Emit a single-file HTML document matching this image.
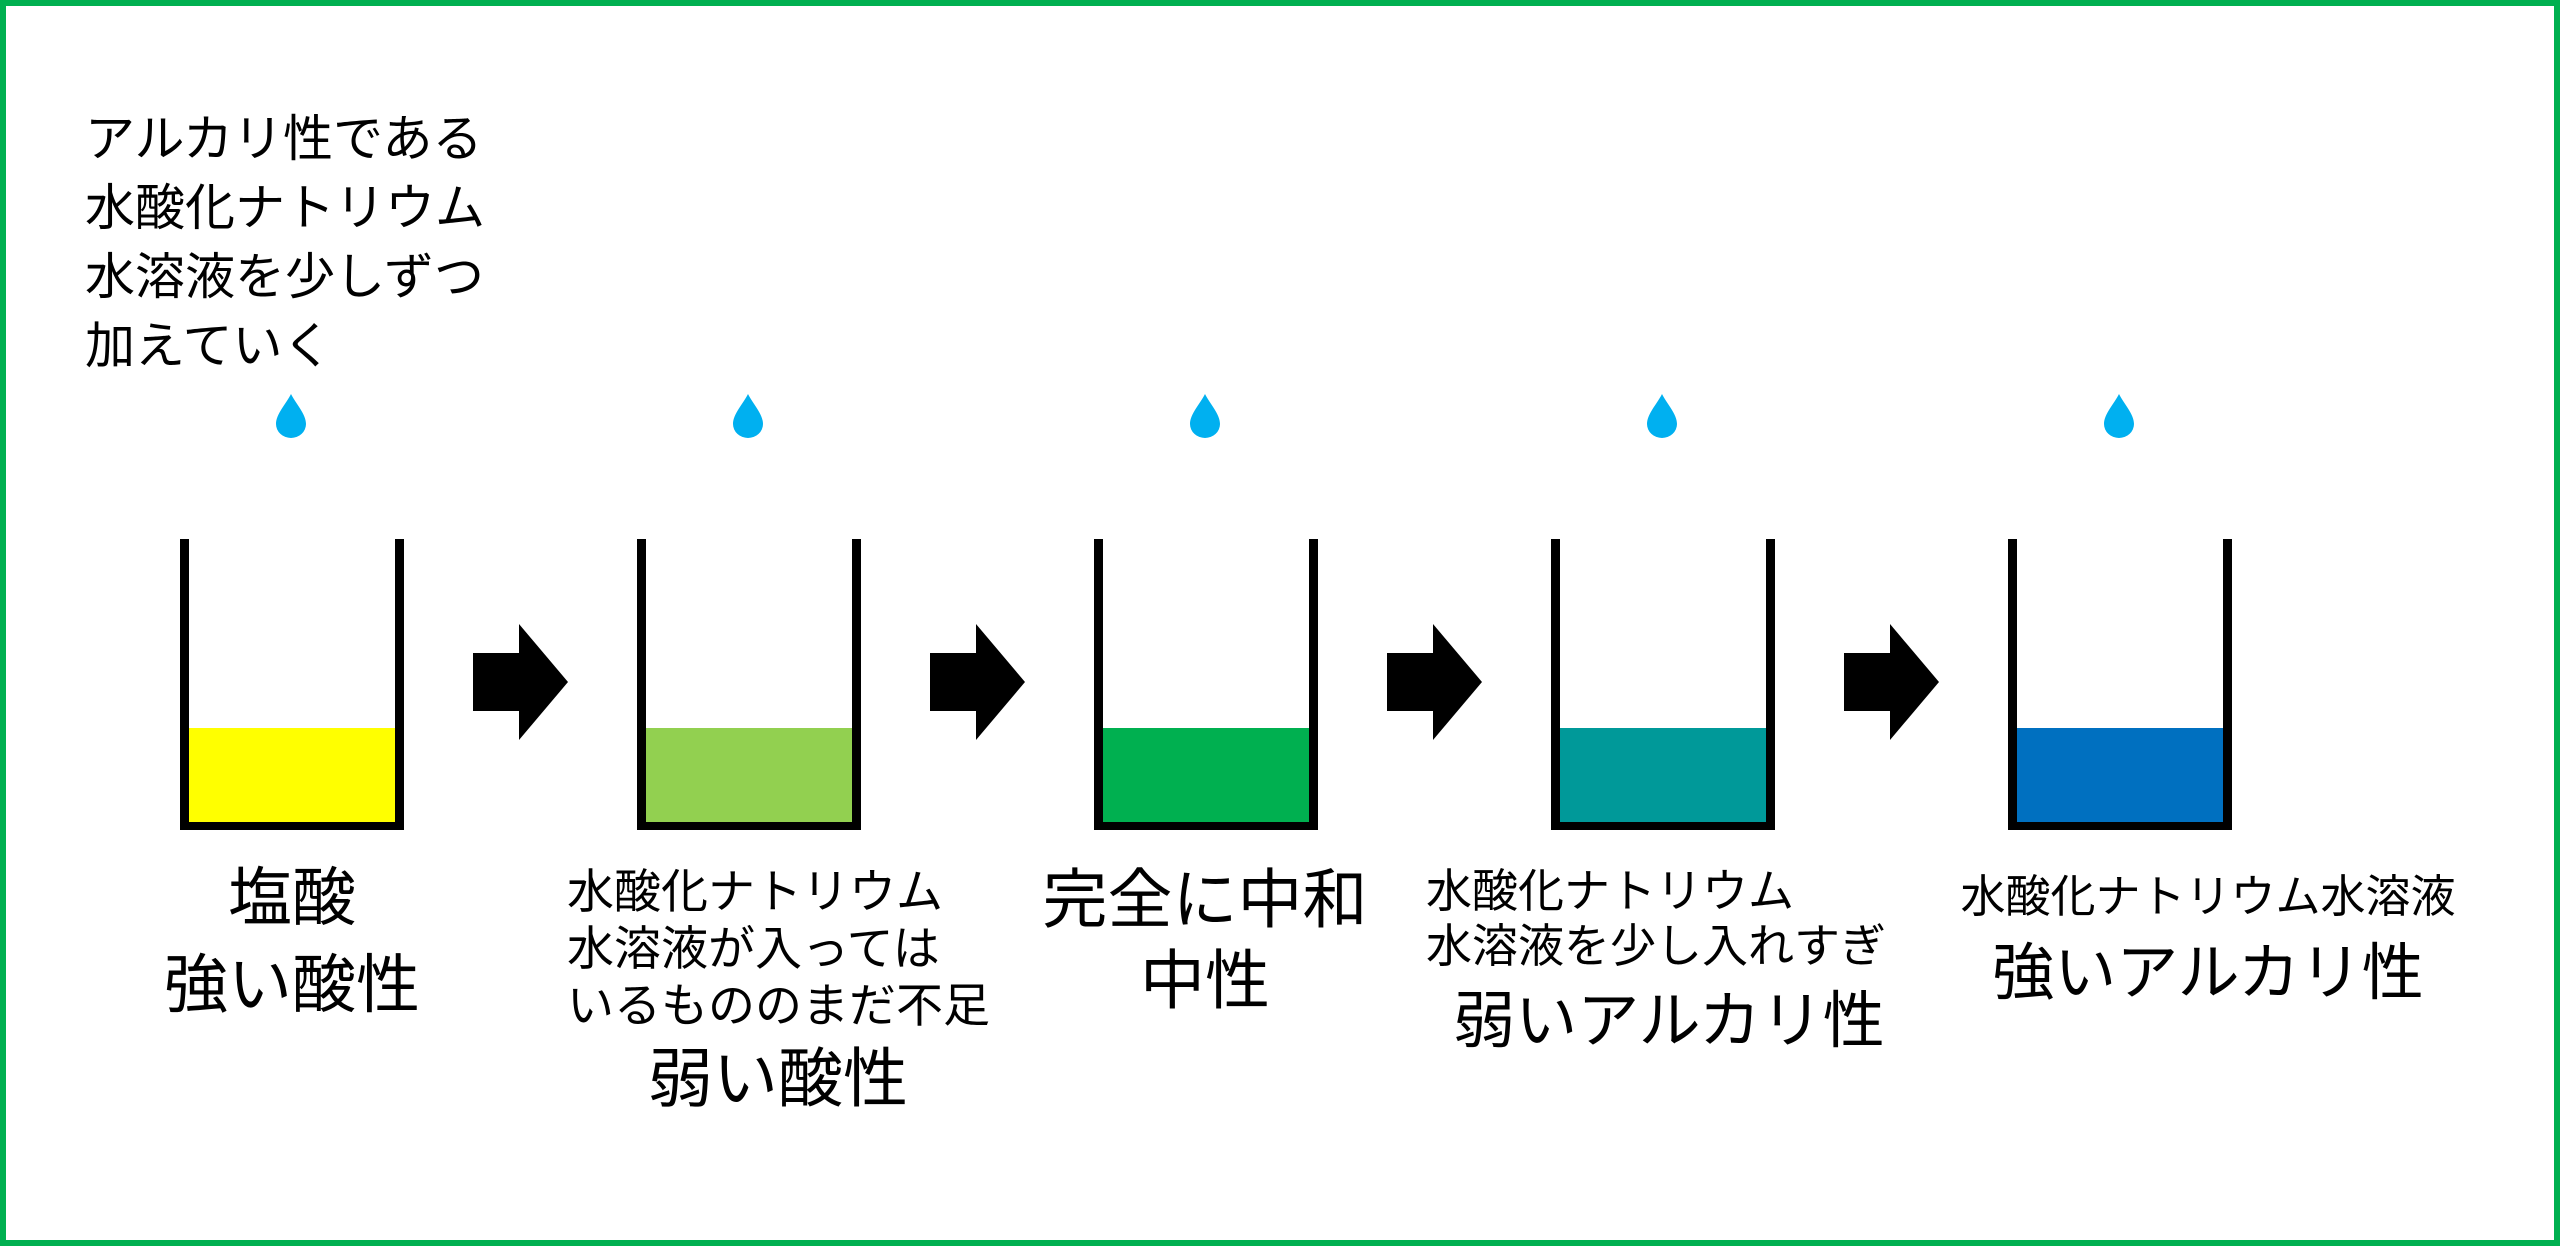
<!DOCTYPE html>
<html><head><meta charset="utf-8">
<style>
html,body{margin:0;padding:0;background:#fff;}
body{width:2560px;height:1246px;position:relative;overflow:hidden;font-family:"Liberation Sans","Noto Sans CJK JP",sans-serif;color:#000;}
.frame{position:absolute;left:0;top:0;width:2548px;height:1234px;border:6px solid #00b050;}
.t{position:absolute;white-space:nowrap;}
.c{transform:translateX(-50%);}
</style></head><body>
<div class="frame"></div>
<svg width="2560" height="1246" style="position:absolute;left:0;top:0">
<defs>
<g id="beaker">
<rect x="0" y="0" width="9" height="291" fill="#000"/>
<rect x="215" y="0" width="9" height="291" fill="#000"/>
<rect x="0" y="283" width="224" height="8" fill="#000"/>
</g>
<path id="drop" d="M0 0 C-5 10 -15 20 -15 30 A15 14 0 0 0 15 30 C15 20 5 10 0 0Z" fill="#00b0f0"/>
<path id="arr" d="M0 29 H46 V0 L95 58 L46 116 V87 H0Z" fill="#000"/>
</defs>
<rect x="189" y="728" width="206" height="95" fill="#ffff00"/>
<rect x="646" y="728" width="206" height="95" fill="#92d050"/>
<rect x="1103" y="728" width="206" height="95" fill="#00b050"/>
<rect x="1560" y="728" width="206" height="95" fill="#009999"/>
<rect x="2017" y="728" width="206" height="95" fill="#0070c0"/>
<use href="#beaker" x="180" y="539"/>
<use href="#beaker" x="637" y="539"/>
<use href="#beaker" x="1094" y="539"/>
<use href="#beaker" x="1551" y="539"/>
<use href="#beaker" x="2008" y="539"/>
<use href="#drop" x="291" y="394"/>
<use href="#drop" x="748" y="394"/>
<use href="#drop" x="1205" y="394"/>
<use href="#drop" x="1662" y="394"/>
<use href="#drop" x="2119" y="394"/>
<use href="#arr" x="473" y="624"/>
<use href="#arr" x="930" y="624"/>
<use href="#arr" x="1387" y="624"/>
<use href="#arr" x="1844" y="624"/>
</svg>

<div class="t" style="left:85px;top:105px;font-size:50px;line-height:69px;">アルカリ性である<br>水酸化ナトリウム<br>水溶液を少しずつ<br>加えていく</div>

<div class="t c" style="left:292px;top:865px;font-size:64px;line-height:66px;">塩酸</div>
<div class="t c" style="left:292px;top:952px;font-size:64px;line-height:66px;">強い酸性</div>

<div class="t" style="left:567px;top:863px;font-size:47px;line-height:57px;">水酸化ナトリウム<br>水溶液が入っては<br>いるもののまだ不足</div>
<div class="t c" style="left:778px;top:1046px;font-size:65px;line-height:66px;">弱い酸性</div>

<div class="t c" style="left:1205px;top:867px;font-size:65px;line-height:66px;">完全に中和</div>
<div class="t c" style="left:1205px;top:948px;font-size:65px;line-height:66px;">中性</div>

<div class="t" style="left:1426px;top:864px;font-size:46px;line-height:55px;">水酸化ナトリウム<br>水溶液を少し入れすぎ</div>
<div class="t c" style="left:1669px;top:990px;font-size:62px;line-height:64px;">弱いアルカリ性</div>

<div class="t c" style="left:2208px;top:873px;font-size:45px;line-height:47px;">水酸化ナトリウム水溶液</div>
<div class="t c" style="left:2208px;top:942px;font-size:62px;line-height:64px;">強いアルカリ性</div>
</body></html>
